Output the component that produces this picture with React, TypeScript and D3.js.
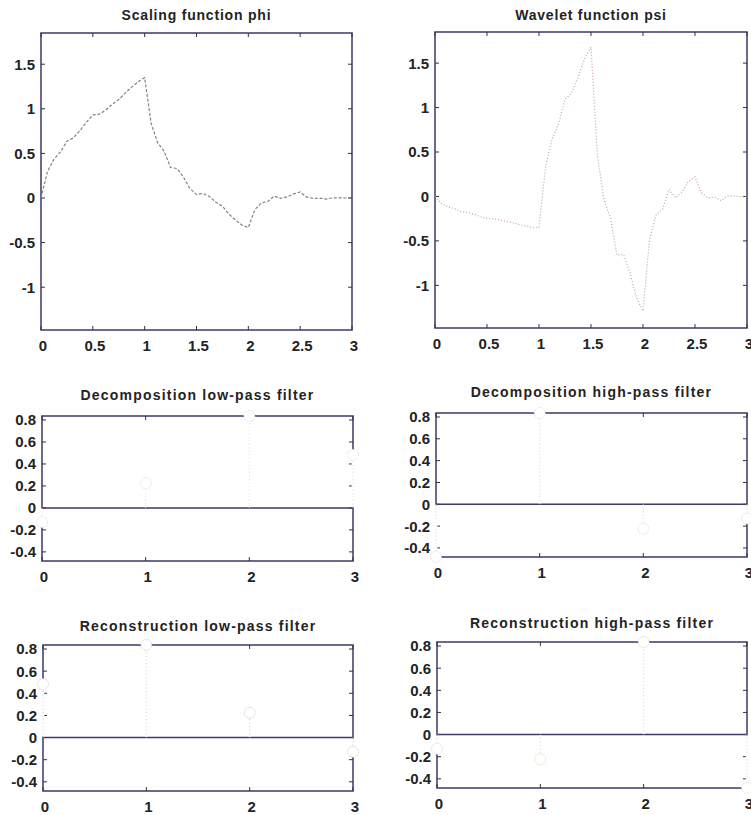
import React from 'react';
import * as d3 from 'd3';

// sample abscissae for the scaling / wavelet functions
const sampleX = [
  0, 0.0625, 0.125, 0.1875, 0.25, 0.3125, 0.375, 0.4375, 0.5, 0.5625, 0.625, 0.6875,
  0.75, 0.8125, 0.875, 0.9375, 1, 1.0625, 1.125, 1.1875, 1.25, 1.3125, 1.375, 1.4375,
  1.5, 1.5625, 1.625, 1.6875, 1.75, 1.8125, 1.875, 1.9375, 2, 2.0625, 2.125, 2.1875,
  2.25, 2.3125, 2.375, 2.4375, 2.5, 2.5625, 2.625, 2.6875, 2.75, 2.8125, 2.875, 2.9375, 3,
];
const phiValues = [
  0, 0.297, 0.435, 0.515, 0.637, 0.674, 0.754, 0.849, 0.933, 0.939, 0.987, 1.051,
  1.104, 1.179, 1.243, 1.303, 1.35, 0.834, 0.621, 0.524, 0.342, 0.33, 0.233, 0.105,
  0.04, 0.051, 0.017, -0.049, -0.092, -0.18, -0.246, -0.303, -0.33, -0.131, -0.056, -0.039,
  0.021, -0.004, 0.013, 0.046, 0.067, 0.01, -0.004, -0.002, -0.012, 0.001, 0.002, 0, 0,
];
const psiValues = [
  0, -0.08, -0.117, -0.138, -0.171, -0.181, -0.202, -0.228, -0.25, -0.252, -0.265, -0.282,
  -0.296, -0.316, -0.333, -0.349, -0.35, 0.328, 0.642, 0.816, 1.092, 1.163, 1.337, 1.548,
  1.68, 0.454, -0.038, -0.243, -0.659, -0.653, -0.858, -1.14, -1.29, -0.49, -0.208, -0.144,
  0.079, -0.016, 0.048, 0.17, 0.22, 0.038, -0.015, -0.009, -0.046, 0.003, 0.008, -0.002, 0,
];
const fnXTicks = [0, 0.5, 1, 1.5, 2, 2.5, 3];
const fnYTicks = [-1, -0.5, 0, 0.5, 1, 1.5];
const filterIndex = [0, 1, 2, 3];
const filterXTicks = [0, 1, 2, 3];
const filterYTicks = [-0.4, -0.2, 0, 0.2, 0.4, 0.6, 0.8];
const loD = [-0.1294, 0.2241, 0.8365, 0.483];
const hiD = [-0.483, 0.8365, -0.2241, -0.1294];
const loR = [0.483, 0.8365, 0.2241, -0.1294];
const hiR = [-0.1294, -0.2241, 0.8365, -0.483];

const FONT = '"Liberation Sans", Arial, Helvetica, sans-serif';
const FRAME = '#3e3868';
const TEXT = '#232323';

type Box = { x0: number; x1: number; y0: number; y1: number };

function Frame({ box, xs, ys, xTicks, yTicks }: { box: Box; xs: any; ys: any; xTicks: number[]; yTicks: number[] }) {
  const t = 4;
  return (
    <g>
      <rect x={box.x0} y={box.y0} width={box.x1 - box.x0} height={box.y1 - box.y0} fill="none" stroke={FRAME} strokeWidth={1.5} />
      {xTicks.map((v) => (
        <g key={'xt' + v}>
          <line x1={xs(v)} x2={xs(v)} y1={box.y1} y2={box.y1 - t} stroke="#333" strokeWidth={1} />
          <line x1={xs(v)} x2={xs(v)} y1={box.y0} y2={box.y0 + t} stroke="#333" strokeWidth={1} />
        </g>
      ))}
      {yTicks.map((v) => (
        <g key={'yt' + v}>
          <line x1={box.x0} x2={box.x0 + t} y1={ys(v)} y2={ys(v)} stroke="#333" strokeWidth={1} />
          <line x1={box.x1} x2={box.x1 - t} y1={ys(v)} y2={ys(v)} stroke="#333" strokeWidth={1} />
        </g>
      ))}
    </g>
  );
}

function Labels({ box, xs, ys, xTicks, yTicks, title, titleY, spacing }: any) {
  return (
    <g fontFamily={FONT} fontWeight="bold" fill={TEXT}>
      <text x={(box.x0 + box.x1) / 2} y={titleY} textAnchor="middle" fontSize={14} letterSpacing={spacing}>
        {title}
      </text>
      {xTicks.map((v: number) => (
        <text key={'xl' + v} x={xs(v) + 2} y={box.y1 + 21} textAnchor="middle" fontSize={15}>
          {String(v)}
        </text>
      ))}
      {yTicks.map((v: number) => (
        <text key={'yl' + v} x={box.x0 - 6} y={ys(v)} dy="0.36em" textAnchor="end" fontSize={15}>
          {String(v)}
        </text>
      ))}
    </g>
  );
}

function FunctionPanel({ box, values, title, titleY, stroke, dash, width }: any) {
  const xs = d3.scaleLinear().domain([0, 3]).range([box.x0, box.x1]);
  const ys = d3.scaleLinear().domain([-1.48, 1.85]).range([box.y1, box.y0]);
  const pts = sampleX.map((x, i) => [x, values[i]] as [number, number]);
  const line = d3
    .line<[number, number]>()
    .x((d) => xs(d[0]))
    .y((d) => ys(d[1]));
  return (
    <g>
      <Frame box={box} xs={xs} ys={ys} xTicks={fnXTicks} yTicks={fnYTicks} />
      <path d={line(pts) || ''} fill="none" stroke={stroke} strokeWidth={width} strokeDasharray={dash} />
      <Labels box={box} xs={xs} ys={ys} xTicks={fnXTicks} yTicks={fnYTicks} title={title} titleY={titleY} spacing={0.8} />
    </g>
  );
}

function FilterPanel({ box, values, title, titleY, color }: any) {
  const xs = d3.scaleLinear().domain([0, 3]).range([box.x0, box.x1]);
  const ys = d3.scaleLinear().domain([-0.483, 0.8365]).range([box.y1, box.y0]);
  return (
    <g>
      <Frame box={box} xs={xs} ys={ys} xTicks={filterXTicks} yTicks={filterYTicks} />
      <line x1={box.x0} x2={box.x1} y1={ys(0)} y2={ys(0)} stroke={FRAME} strokeWidth={1.5} />
      {filterIndex.map((k) => (
        <g key={'st' + k}>
          <line x1={xs(k)} x2={xs(k)} y1={ys(0) + (values[k] > 0 ? -1 : 1)} y2={ys(values[k])} stroke="#fff" strokeWidth={2.5} />
          <line x1={xs(k)} x2={xs(k)} y1={ys(0)} y2={ys(values[k])} stroke={color} strokeWidth={1} strokeDasharray="1,2.5" />
        </g>
      ))}
      {filterIndex.map((k) => (
        <circle key={'mk' + k} cx={xs(k)} cy={ys(values[k])} r={5.5} fill="#fff" stroke={color} strokeWidth={1} strokeDasharray="1.2,1.2" />
      ))}
      <Labels box={box} xs={xs} ys={ys} xTicks={filterXTicks} yTicks={filterYTicks} title={title} titleY={titleY} spacing={1.2} />
    </g>
  );
}

export default function App() {
  return (
    <svg width={751} height={815} style={{ position: 'absolute', left: 0, top: 0, background: '#fff' }}>
      <rect x={0} y={0} width={751} height={815} fill="#fff" />
      <FunctionPanel box={{ x0: 41, x1: 352, y0: 33, y1: 330 }} values={phiValues} title="Scaling function phi" titleY={20} stroke="#8c7f7f" dash="3,1.8" width={1.2} />
      <FunctionPanel box={{ x0: 435, x1: 747, y0: 32, y1: 328 }} values={psiValues} title="Wavelet function psi" titleY={20} stroke="#c9a0a0" dash="1,2" width={1.2} />
      <FilterPanel box={{ x0: 42, x1: 353, y0: 416, y1: 561 }} values={loD} title="Decomposition low-pass filter" titleY={400} color="#e6d6dc" />
      <FilterPanel box={{ x0: 436, x1: 747, y0: 413, y1: 557 }} values={hiD} title="Decomposition high-pass filter" titleY={397} color="#e6d6dc" />
      <FilterPanel box={{ x0: 43, x1: 353, y0: 645, y1: 791 }} values={loR} title="Reconstruction low-pass filter" titleY={631} color="#dcc4d0" />
      <FilterPanel box={{ x0: 437, x1: 747, y0: 642, y1: 788 }} values={hiR} title="Reconstruction high-pass filter" titleY={628} color="#ddd2b8" />
    </svg>
  );
}
